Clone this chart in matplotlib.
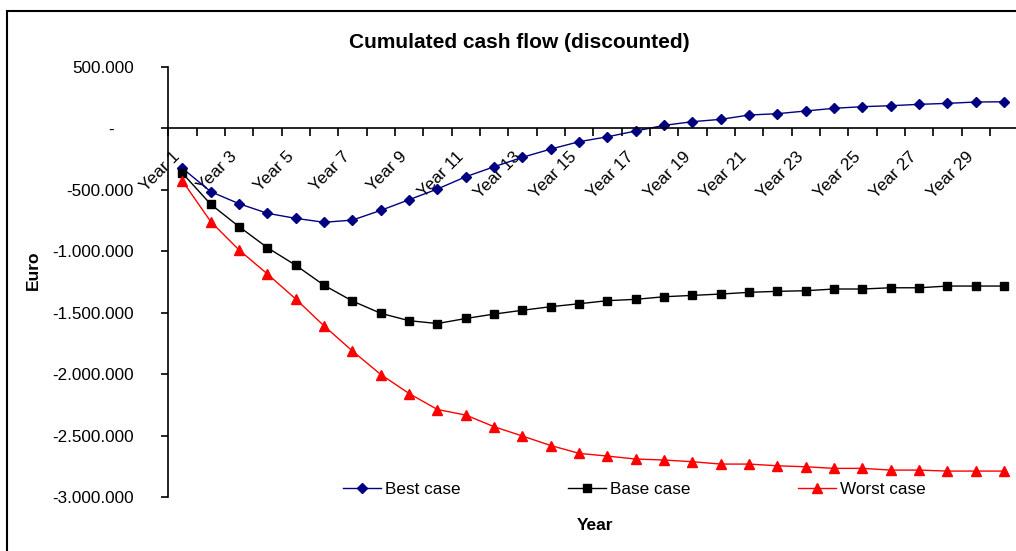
import matplotlib
matplotlib.use('Agg')
import matplotlib.pyplot as plt
import matplotlib.transforms as mtransforms
from matplotlib.patches import Rectangle
from matplotlib.ticker import FuncFormatter

plt.rcParams['font.family'] = ['Liberation Sans', 'DejaVu Sans']

# cumulated discounted cash flow per year (Euro)
years = ['Year %d' % i for i in range(1, 31)]

best_case = [-325000, -515000, -613000, -691000, -732000, -764000, -746000, -667000, -580000, -493000,
             -393000, -312000, -235000, -168000, -108000, -68000, -21000, 25000, 55000, 74000,
             109000, 120000, 142000, 164000, 177000, 185000, 196000, 204000, 215000, 217000]

base_case = [-365000, -618000, -800000, -971000, -1114000, -1277000, -1405000, -1505000, -1565000, -1588000,
             -1547000, -1511000, -1480000, -1451000, -1427000, -1402000, -1391000, -1370000, -1359000, -1348000,
             -1334000, -1326000, -1321000, -1307000, -1307000, -1297000, -1297000, -1283000, -1283000, -1283000]

worst_case = [-428000, -759000, -990000, -1185000, -1389000, -1608000, -1812000, -2003000, -2158000, -2288000,
              -2333000, -2428000, -2504000, -2581000, -2645000, -2667000, -2691000, -2699000, -2713000, -2732000,
              -2732000, -2746000, -2754000, -2767000, -2767000, -2781000, -2781000, -2789000, -2789000, -2789000]

y_ticks = [500000, 0, -500000, -1000000, -1500000, -2000000, -2500000, -3000000]

W, H = 1016, 551
fig = plt.figure(figsize=(W / 100, H / 100), dpi=100)
ax = fig.add_axes([168.3 / W, 54 / H, 850 / W, 430 / H])

x = list(range(1, len(years) + 1))
ax.plot(x, best_case, color='#000080', lw=1, marker='D', ms=5, label='Best case')
ax.plot(x, base_case, color='black', lw=1, marker='s', ms=6, label='Base case')
ax.plot(x, worst_case, color='red', lw=1, marker='^', ms=7, label='Worst case')

ax.set_xlim(0.5, len(years) + 0.5)
ax.set_ylim(-3000000, 500000)

# axes look like excel: y axis left, x axis crossing at zero
ax.spines['top'].set_visible(False)
ax.spines['right'].set_visible(False)
ax.spines['bottom'].set_position(('data', 0))
for s in ['left', 'bottom']:
    ax.spines[s].set_linewidth(1.2)


def euro_fmt(v, pos):
    if v == 0:
        return '-    '
    return '{:,.0f}'.format(v).replace(',', '.')


ax.set_yticks(y_ticks)
ax.yaxis.set_major_formatter(FuncFormatter(euro_fmt))
ax.tick_params(axis='y', direction='out', length=5, width=1.2, pad=20, labelsize=12.3, colors='black')

# tick marks between categories, labels on every other year
ax.set_xticks([i + 0.5 for i in range(0, len(years) + 1)])
ax.set_xticklabels([])
ax.set_xticks(x[::2], minor=True)
ax.set_xticklabels(years[::2], minor=True)
ax.tick_params(axis='x', which='major', direction='out', length=6, width=1.2)
ax.tick_params(axis='x', which='minor', length=0, pad=15, labelsize=12.3)
shift = mtransforms.ScaledTranslation(-0.10, 0, fig.dpi_scale_trans)
for lab in ax.get_xticklabels(minor=True):
    lab.set_rotation(45)
    lab.set_ha('right')
    lab.set_va('top')
    lab.set_rotation_mode('anchor')
    lab.set_transform(lab.get_transform() + shift)

ax.legend(loc='center left', bbox_to_anchor=(343 / W, 1 - 489 / H), bbox_transform=fig.transFigure,
          ncol=3, frameon=False, fontsize=12.3, borderpad=0, borderaxespad=0,
          handlelength=2.2, handletextpad=0.25, columnspacing=6.3)

fig.text(519 / W, 1 - 43 / H, 'Cumulated cash flow (discounted)', ha='center', va='center',
         fontsize=15, fontweight='bold')
fig.text(33 / W, 1 - 270 / H, 'Euro', rotation=90, ha='center', va='center', fontsize=12.5, fontweight='bold')
fig.text(595 / W, 1 - 526 / H, 'Year', ha='center', va='center', fontsize=12.5, fontweight='bold')

# chart area border (cut off on the right and bottom)
fig.patches.append(Rectangle((6.5 / W, -0.1), 1.2, 1.1 - 11.5 / H, transform=fig.transFigure,
                             fill=False, edgecolor='black', lw=1.5))

fig.savefig('out.png', dpi=100)
